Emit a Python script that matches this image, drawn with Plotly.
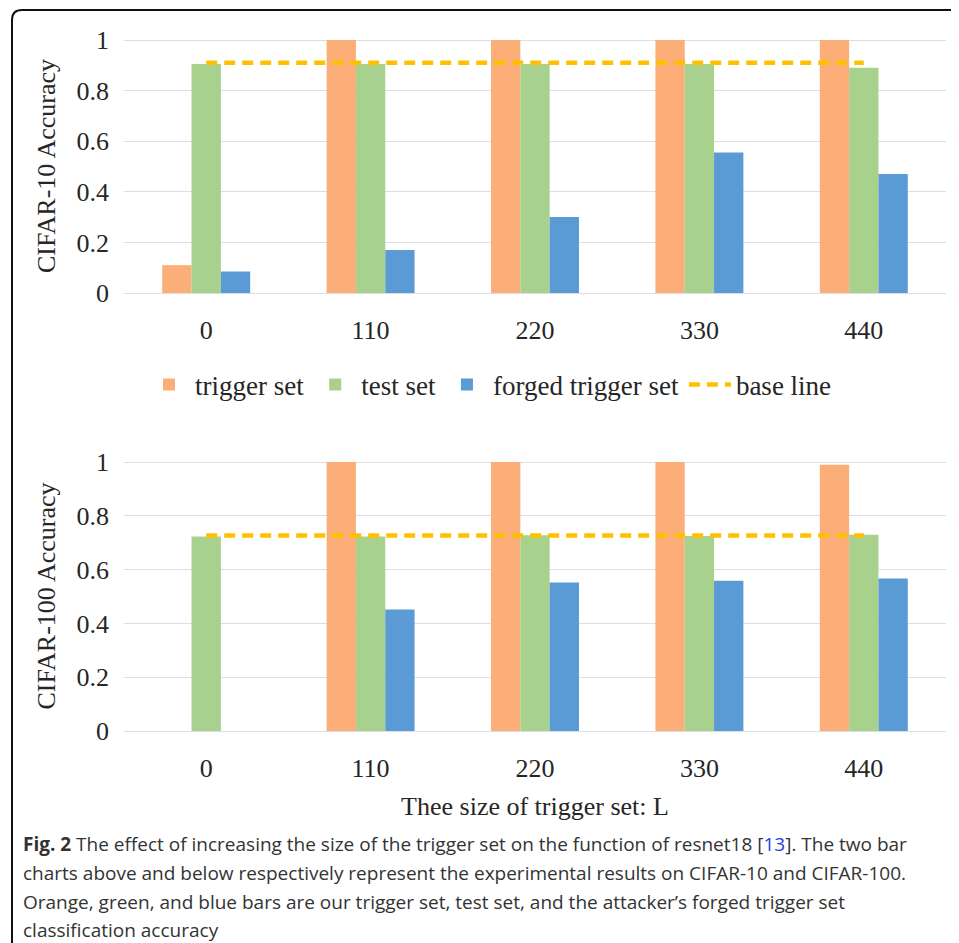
import plotly.graph_objects as go

# ---------------- data ----------------
categories = ["0", "110", "220", "330", "440"]

c10_trigger = [0.11, 1.0, 1.0, 1.0, 1.0]
c10_test = [0.905, 0.905, 0.905, 0.905, 0.89]
c10_forged = [0.085, 0.17, 0.30, 0.555, 0.47]
c10_baseline = [0.91, 0.91, 0.91, 0.91, 0.91]

c100_trigger = [0.0, 1.0, 1.0, 1.0, 0.99]
c100_test = [0.723, 0.723, 0.728, 0.725, 0.73]
c100_forged = [0.0, 0.452, 0.552, 0.559, 0.567]
c100_baseline = [0.727, 0.727, 0.727, 0.727, 0.727]

y_ticks = [0, 0.2, 0.4, 0.6, 0.8, 1]
y_tick_text = ["0", "0.2", "0.4", "0.6", "0.8", "1"]

series_names = ["trigger set", "test set", "forged trigger set", "base line"]

caption_lines = [
    "<b>Fig. 2</b> The effect of increasing the size of the trigger set on the function of resnet18 "
    "[<span style='color:#1f3fd6'>13</span>]. The two bar",
    "charts above and below respectively represent the experimental results on CIFAR-10 and CIFAR-100.",
    "Orange, green, and blue bars are our trigger set, test set, and the attacker\u2019s forged trigger set",
    "classification accuracy",
]

# ---------------- styling ----------------
PAGE_W, PAGE_H = 959, 943
OFF = 8  # default page body margin
W, H = PAGE_W - OFF, PAGE_H - OFF
# plot region in page pixels
PL, PR, PT, PB = 124, 946, 39, 731
ML, MR, MT, MB = PL - OFF, W - (PR - OFF), PT - OFF, H - (PB - OFF)
PW, PH = W - ML - MR, H - MT - MB


def px2x(px):
    return (px - OFF - ML) / PW


def px2y(py):
    return (H - MB - (py - OFF)) / PH


ORANGE = "#FBAE78"
GREEN = "#A9D18E"
BLUE = "#5B9BD5"
GOLD = "#FFC000"
GRID = "#D9DEE8"
TXT = "#262626"
SERIF = "Liberation Serif, Times New Roman, serif"
SANS = "Open Sans, Noto Sans, sans-serif"

fig = go.Figure()


def add_panel(trig, test, forged, base, xa, ya, show):
    fig.add_trace(go.Bar(x=categories, y=trig, name=series_names[0], marker_color=ORANGE,
                         marker_line_width=0, xaxis=xa, yaxis=ya, showlegend=show,
                         legendgroup="a"))
    fig.add_trace(go.Bar(x=categories, y=test, name=series_names[1], marker_color=GREEN,
                         marker_line_width=0, xaxis=xa, yaxis=ya, showlegend=show,
                         legendgroup="b"))
    fig.add_trace(go.Bar(x=categories, y=forged, name=series_names[2], marker_color=BLUE,
                         marker_line_width=0, xaxis=xa, yaxis=ya, showlegend=show,
                         legendgroup="c"))
    fig.add_trace(go.Scatter(x=categories, y=base, name=series_names[3], mode="lines",
                             line=dict(color=GOLD, width=4.5, dash="11px,7px"),
                             xaxis=xa, yaxis=ya, showlegend=show, legendgroup="d"))


add_panel(c10_trigger, c10_test, c10_forged, c10_baseline, "x", "y", True)
add_panel(c100_trigger, c100_test, c100_forged, c100_baseline, "x2", "y2", False)

axis_font = dict(family=SERIF, size=26, color=TXT)

xcommon = dict(type="category", showgrid=False, showline=False, zeroline=False,
               tickfont=axis_font, ticks="", ticklabelstandoff=19, fixedrange=True)
ycommon = dict(range=[0, 1.004], tickvals=y_ticks, ticktext=y_tick_text, showgrid=True,
               gridcolor=GRID, gridwidth=1.3, zeroline=True, zerolinecolor=GRID,
               zerolinewidth=1.3, showline=False, tickfont=axis_font, ticks="",
               ticklabelstandoff=14, fixedrange=True)

fig.update_layout(
    width=W, height=H,
    margin=dict(l=ML, r=MR, t=MT, b=MB, pad=0),
    paper_bgcolor="white", plot_bgcolor="white",
    barmode="group", bargap=0.465, bargroupgap=0,
    font=dict(family=SERIF, size=26, color=TXT),
    xaxis=dict(domain=[0, 1], anchor="y", **xcommon),
    yaxis=dict(domain=[px2y(293), px2y(39)], anchor="x",
               title=dict(text="CIFAR-10 Accuracy", font=axis_font, standoff=13), **ycommon),
    xaxis2=dict(domain=[0, 1], anchor="y2",
                title=dict(text="Thee size of trigger set: L", font=axis_font, standoff=14),
                **xcommon),
    yaxis2=dict(domain=[px2y(731), px2y(461)], anchor="x2",
                title=dict(text="CIFAR-100 Accuracy", font=axis_font, standoff=13), **ycommon),
    legend=dict(orientation="h", x=px2x(143), xanchor="left", y=px2y(385), yanchor="middle",
                font=dict(family=SERIF, size=27, color=TXT), itemwidth=42,
                bgcolor="rgba(0,0,0,0)", traceorder="normal", tracegroupgap=0),
    showlegend=True,
)

# frame around figure (left and top edges visible, rounded corner)
x0, x1 = px2x(12), px2x(22)
yt, yc, yb = px2y(10), px2y(20), px2y(PAGE_H + 5)
xr = px2x(PAGE_W + 5)
fig.add_shape(type="path", xref="paper", yref="paper",
              path=f"M {x0},{yb} L {x0},{yc} Q {x0},{yt} {x1},{yt} L {xr},{yt}",
              line=dict(color="#111111", width=2))

# caption
caption_y = [844, 873, 902, 930]
for txt, cy in zip(caption_lines, caption_y):
    fig.add_annotation(text=txt, xref="paper", yref="paper", x=px2x(21), y=px2y(cy),
                       xanchor="left", yanchor="middle", showarrow=False, align="left",
                       font=dict(family=SANS, size=19, color="#333333"))

fig.write_html("out.html")
